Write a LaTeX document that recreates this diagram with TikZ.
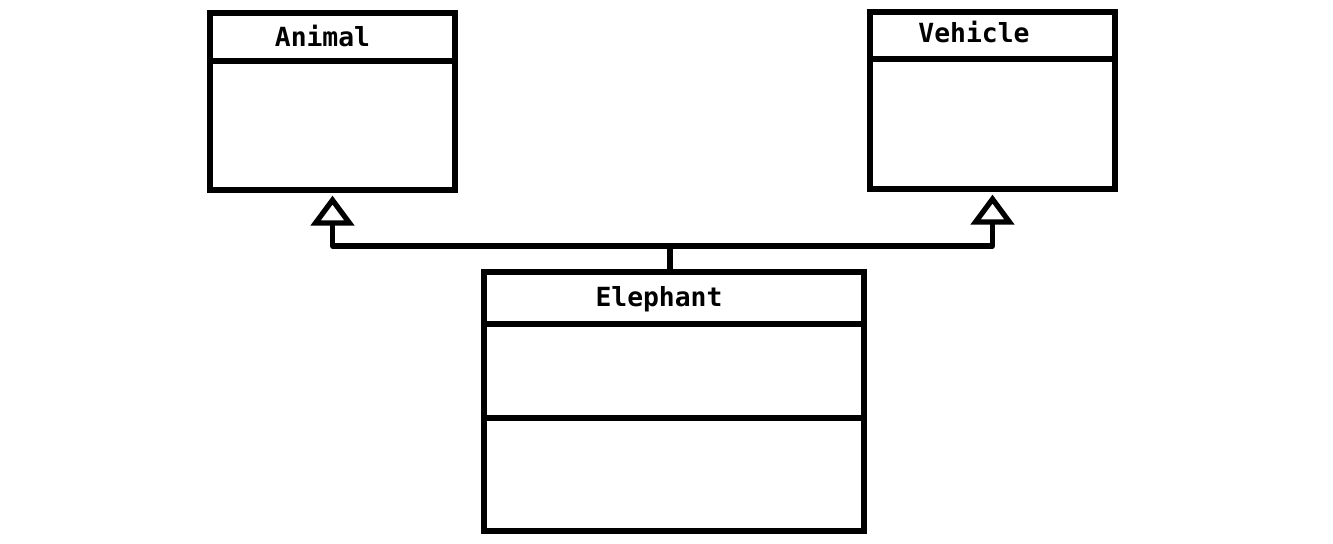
\documentclass[tikz,border=0pt]{standalone}
\usepackage{fontspec}
\setmonofont{DejaVu Sans Mono}
\usetikzlibrary{arrows.meta}
\tikzstyle{class_box} = [rectangle, draw, line width=3pt, inner sep=0pt]
\tikzstyle{class_name} = [anchor=base, inner sep=0pt, font=\ttfamily\bfseries\fontsize{15}{18}\selectfont]
\tikzstyle{class_line} = [line width=3pt]
\tikzstyle{edge_inherit} = [line width=3pt, line join=round, -{Triangle[open, width=0.86cm, length=0.6cm, line width=3pt]}, shorten >=0.06cm]

\begin{document}
\begin{tikzpicture}[x=0.02cm, y=-0.02cm]
			\useasboundingbox (0,0) rectangle (1333,544);
			\node (A) at (332.5,101.5) [class_box, minimum width=4.9cm, minimum height=3.54cm] {};
			\node (V) at (992.5,100.5) [class_box, minimum width=4.9cm, minimum height=3.54cm] {};
			\node (E) at (674,401.5) [class_box, minimum width=7.6cm, minimum height=5.18cm] {};
			\node (An) at (322.5,47) [class_name] {Animal};
			\node (Vn) at (974,43) [class_name] {Vehicle};
			\node (En) at (659,306) [class_name] {Elephant};
			\draw[class_line] (A.west |- 0,61) -- (A.east |- 0,61);
			\draw[class_line] (V.west |- 0,59) -- (V.east |- 0,59);
			\draw[class_line] (E.west |- 0,324) -- (E.east |- 0,324) (E.west |- 0,418) -- (E.east |- 0,418);
			\coordinate (H) at (670,246);
			\draw[edge_inherit] (E.north -| H) -- (H) -| (A.south);
			\draw[edge_inherit] (H) -| (V.south);
		\end{tikzpicture}
\end{document}
